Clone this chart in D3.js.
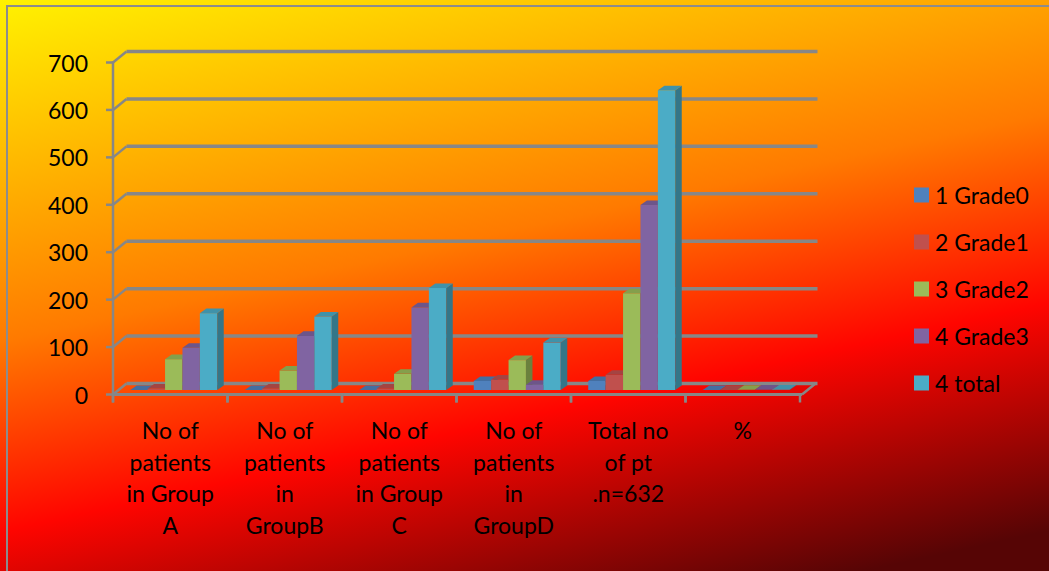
<!DOCTYPE html>
<html>
<head>
<meta charset="utf-8">
<script src="https://cdn.jsdelivr.net/npm/d3@7/dist/d3.min.js"></script>
<style>
  html, body { margin: 0; padding: 0; background: #fff; }
  svg { display: block; }
  text { font-family: Lato, "Open Sans", sans-serif; fill: #000; }
</style>
</head>
<body>
<svg id="chart" width="1049" height="571"></svg>
<script>
// Categories (x axis, one entry per text line)
const categories = ["A", "B", "C", "D", "Total", "%"];
const categoryLines = [
  ["No of", "patients", "in Group", "A"],
  ["No of", "patients", "in", "GroupB"],
  ["No of", "patients", "in Group", "C"],
  ["No of", "patients", "in", "GroupD"],
  ["Total no", "of pt", ".n=632"],
  ["%"]
];

// Series
const seriesNames = ["1 Grade0", "2 Grade1", "3 Grade2", "4 Grade3", "4 total"];
const grade0 = [0, 0, 0, 19, 19, 0.03];
const grade1 = [3, 3, 3, 22, 32, 0.05];
const grade2 = [65, 41, 34, 63, 204, 0.32];
const grade3 = [89, 114, 174, 11, 390, 0.62];
const total  = [162, 155, 215, 100, 632, 1];
const seriesColors = ["#4F81BD", "#C0504D", "#9BBB59", "#8064A2", "#4BACC6"];

// Value axis ticks
const yTicks = [0, 100, 200, 300, 400, 500, 600, 700];

const seriesValues = [grade0, grade1, grade2, grade3, total];
const fontSize = 23;

const svg = d3.select("#chart");

// Background gradient
const defs = svg.append("defs");
const grad = defs.append("linearGradient")
  .attr("id", "bg").attr("gradientUnits", "userSpaceOnUse")
  .attr("x1", 0).attr("y1", 0).attr("x2", 158).attr("y2", 725);
[[0, "#FFF200"], [0.45, "#FF7A00"], [0.7, "#FF0500"], [1.0, "#560505"]]
  .forEach(([o, c]) => grad.append("stop").attr("offset", o).attr("stop-color", c));
svg.append("rect").attr("width", 1049).attr("height", 571).attr("fill", "url(#bg)");

// Chart frame
svg.append("rect").attr("x", 7).attr("y", 6).attr("width", 1100).attr("height", 600)
  .attr("fill", "none").attr("stroke", "#8C8C8C").attr("stroke-width", 2);

// Scales (front plane)
const x = d3.scaleBand().domain(categories).range([113, 800]);
const y = d3.scaleLinear().domain([0, 700]).range([394.5, 62.5]);
const inner = d3.scaleBand().domain(seriesNames).range([0, x.bandwidth()]).paddingOuter(0.79);

// Depth offsets
const wallDx = 13.5, wallDy = -11;   // back wall
const barDx = 3.5, barDy = -4.5;     // bar front faces
const depthDx = 6.5, depthDy = -4.6; // bar thickness

const gridColor = "#878787";

// Back wall gridlines with connectors to the front axis
const grid = svg.append("g");
yTicks.forEach(t => {
  const yy = y(t);
  grid.append("line")
    .attr("x1", x.range()[0] + wallDx).attr("x2", x.range()[1] + wallDx + 4)
    .attr("y1", yy + wallDy).attr("y2", yy + wallDy)
    .attr("stroke", gridColor).attr("stroke-width", 3.5);
  grid.append("line")
    .attr("x1", x.range()[0]).attr("y1", yy)
    .attr("x2", x.range()[0] + wallDx).attr("y2", yy + wallDy)
    .attr("stroke", gridColor).attr("stroke-width", 2.5);
});

// Floor right edge
grid.append("line")
  .attr("x1", x.range()[1] + 2).attr("y1", y(0))
  .attr("x2", x.range()[1] + wallDx + 2).attr("y2", y(0) + wallDy)
  .attr("stroke", gridColor).attr("stroke-width", 2.5);

// Bars
const bars = svg.append("g");
categories.forEach((cat, ci) => {
  seriesNames.forEach((s, si) => {
    const v = seriesValues[si][ci];
    const base = d3.color(seriesColors[si]);
    const x0 = x(cat) + inner(s) + barDx;
    const w = inner.bandwidth();
    const yt = y(v) + barDy;
    const yb = y(0) + barDy;
    if (yb - yt > 0.3) {
      bars.append("rect").attr("x", x0).attr("y", yt).attr("width", w).attr("height", yb - yt)
        .attr("fill", base.formatHex());
      bars.append("path")
        .attr("d", `M${x0 + w},${yt} L${x0 + w + depthDx},${yt + depthDy} L${x0 + w + depthDx},${yb + depthDy} L${x0 + w},${yb} Z`)
        .attr("fill", base.darker(1.05).formatHex());
    }
    bars.append("path")
      .attr("d", `M${x0},${yt} L${x0 + depthDx},${yt + depthDy} L${x0 + w + depthDx},${yt + depthDy} L${x0 + w},${yt} Z`)
      .attr("fill", base.darker(0.45).formatHex());
  });
});

// Front axes
const axes = svg.append("g");
axes.append("line")
  .attr("x1", x.range()[0]).attr("x2", x.range()[1] + 2)
  .attr("y1", y(0)).attr("y2", y(0))
  .attr("stroke", gridColor).attr("stroke-width", 3);
axes.append("line")
  .attr("x1", x.range()[0]).attr("x2", x.range()[0])
  .attr("y1", y(700) - 1).attr("y2", y(0) + 8)
  .attr("stroke", gridColor).attr("stroke-width", 2.5);

// Value axis ticks and labels
yTicks.forEach(t => {
  axes.append("line")
    .attr("x1", x.range()[0] - 7).attr("x2", x.range()[0])
    .attr("y1", y(t)).attr("y2", y(t))
    .attr("stroke", gridColor).attr("stroke-width", 2.5);
  axes.append("text")
    .attr("x", 88).attr("y", y(t))
    .attr("text-anchor", "end").attr("dominant-baseline", "central")
    .attr("font-size", fontSize).text(t);
});

// Category tick marks
categories.forEach(cat => {
  [x(cat), x(cat) + x.bandwidth()].forEach(px => {
    axes.append("line")
      .attr("x1", px).attr("x2", px)
      .attr("y1", y(0)).attr("y2", y(0) + 8)
      .attr("stroke", gridColor).attr("stroke-width", 2.5);
  });
});

// Category labels
categories.forEach((cat, ci) => {
  const cx = x(cat) + x.bandwidth() / 2;
  categoryLines[ci].forEach((line, li) => {
    axes.append("text")
      .attr("x", cx).attr("y", 430 + li * 31.5)
      .attr("text-anchor", "middle").attr("dominant-baseline", "central")
      .attr("font-size", fontSize).text(line);
  });
});

// Legend
const legend = svg.append("g");
seriesNames.forEach((s, i) => {
  const cy = 195 + i * 47;
  legend.append("rect").attr("x", 914).attr("y", cy - 7.5).attr("width", 15).attr("height", 15)
    .attr("fill", seriesColors[i]);
  legend.append("text").attr("x", 935).attr("y", cy)
    .attr("dominant-baseline", "central").attr("font-size", fontSize).text(s);
});
</script>
</body>
</html>
